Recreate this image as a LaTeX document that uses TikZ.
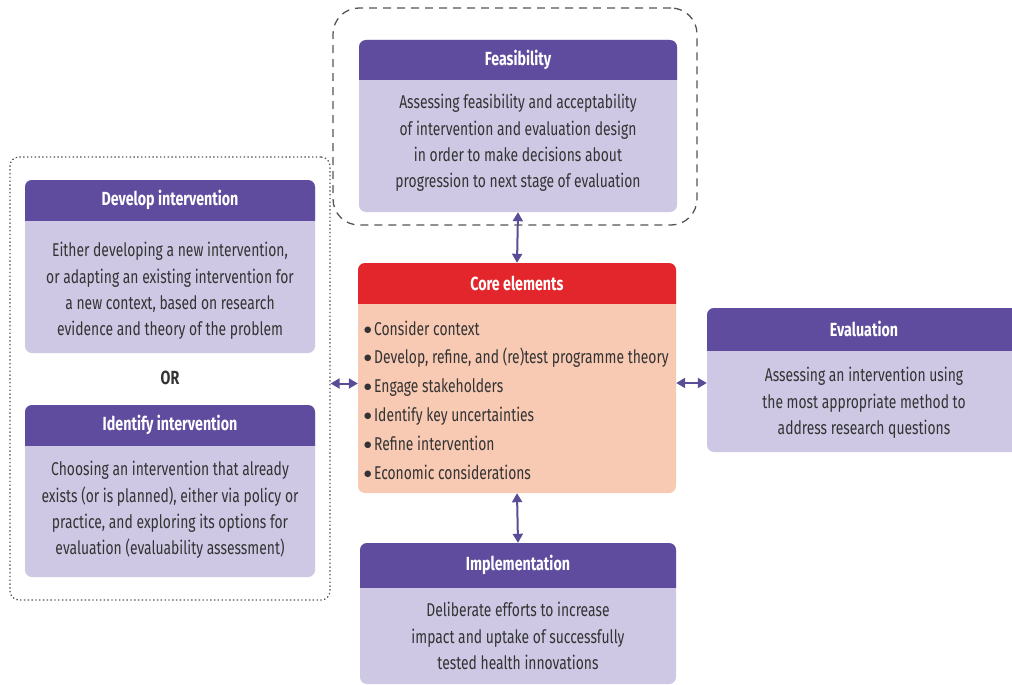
\documentclass[tikz,border=0pt]{standalone}
\usepackage{fontspec}
\setmainfont[FakeStretch=0.75]{Fira Sans}
\newfontfamily\dejavu{DejaVu Sans}
\usetikzlibrary{arrows.meta,fit}
\definecolor{hdrc}{HTML}{5F4C9E}
\definecolor{bodyc}{HTML}{CEC8E5}
\definecolor{redc}{HTML}{E2262B}
\definecolor{peachc}{HTML}{F8C9B3}
\definecolor{arrc}{HTML}{5A4D98}
\definecolor{txtc}{HTML}{333333}
\definecolor{grpc}{HTML}{555555}
\newcommand\bul{\raisebox{3pt}{\dejavu\fontsize{8.5}{0}\selectfont ●}\hspace{2.5pt}}
\tikzset{
  boxshape/.style={inner sep=0pt, rounded corners=7pt, draw=none},
  ttl/.style={text=white, font=\bfseries\fontsize{19}{22}\selectfont, inner sep=0pt},
  txt/.style={text=txtc, font=\fontsize{18.5}{26.3}\selectfont, align=center, inner sep=0pt},
  lst/.style={text=txtc, font=\fontsize{18.5}{28.8}\selectfont, align=left, inner sep=0pt},
  arr/.style={{Triangle[width=10pt,length=9pt]}-{Triangle[width=10pt,length=9pt]}, line width=2pt, draw=arrc},
}
% #1 name, #2 x1, #3 y1, #4 x2, #5 y2, #6 header bottom, #7 header colour, #8 body colour
\newcommand\mkpanel[8]{%
  \node[boxshape, fill=#8, fit={(#2,#3) (#4,#5)}] (#1) {};
  \begin{scope}
    \clip (#2,#3) rectangle (#4,#6);
    \fill[#7, rounded corners=7pt] (#2,#3) rectangle (#4,#5);
  \end{scope}
}
\begin{document}
\begin{tikzpicture}[x=1pt,y=-1pt]
\useasboundingbox (0,0) rectangle (1012,685);
\fill[white] (0,0) rectangle (1012,685);

% group outlines
\node[fit={(333,8) (697,225)}, inner sep=0pt, draw=grpc, line width=1.3pt, dash pattern=on 8pt off 6pt, rounded corners=26pt] (feasgrp) {};
\node[fit={(10,157) (330,600)}, inner sep=0pt, draw=grpc, line width=1.2pt, dash pattern=on 1.4pt off 2.4pt, rounded corners=9pt] (leftgrp) {};

% Feasibility
\mkpanel{feas}{359}{40}{677}{212}{80}{hdrc}{bodyc}
\node[ttl] (feas-t) at (518,60) {Feasibility};
\node[txt] (feas-b) at (518,143) {Assessing feasibility and acceptability\\of intervention and evaluation design\\in order to make decisions about\\progression to next stage of evaluation};

% Develop
\mkpanel{dev}{25}{180}{315}{353}{220}{hdrc}{bodyc}
\node[ttl] (dev-t) at (170,200) {Develop intervention};
\node[txt] (dev-b) at (170,291) {Either developing a new intervention,\\or adapting an existing intervention for\\a new context, based on research\\evidence and theory of the problem};

\node[text=txtc, font=\bfseries\fontsize{19}{22}\selectfont, inner sep=0pt] (or) at (170,378) {OR};

% Identify
\mkpanel{ident}{25}{405}{315}{577}{445}{hdrc}{bodyc}
\node[ttl] (ident-t) at (170,425) {Identify intervention};
\node[txt] (ident-b) at (170,510) {Choosing an intervention that already\\exists (or is planned), either via policy or\\practice, and exploring its options for\\evaluation (evaluability assessment)};

% Core
\mkpanel{core}{358}{263}{676}{493}{303}{redc}{peachc}
\node[ttl] (core-t) at (517,283) {Core elements};
\node[lst, anchor=west] (core-b) at (364,400) {\bul Consider context\\\bul Develop, refine, and (re)test programme theory\\\bul Engage stakeholders\\\bul Identify key uncertainties\\\bul Refine intervention\\\bul Economic considerations};

% Evaluation
\mkpanel{eval}{707}{308}{1020}{452}{350}{hdrc}{bodyc}
\node[ttl] (eval-t) at (864,329) {Evaluation};
\node[txt] (eval-b) at (864,403) {Assessing an intervention using\\the most appropriate method to\\address research questions};

% Implementation
\mkpanel{impl}{360}{543}{676}{684}{587}{hdrc}{bodyc}
\node[ttl] (impl-t) at (518,565) {Implementation};
\node[txt] (impl-b) at (518,636) {Deliberate efforts to increase\\impact and uptake of successfully\\tested health innovations};

% connectors
\draw[arr] (feas.south) -- (core.north);
\draw[arr] (core.south) -- (impl.north);
\draw[arr] ([yshift=-5pt]leftgrp.east) -- ([yshift=-5pt]leftgrp.east -| core.west);
\draw[arr] ([yshift=-5pt]core.east) -- ([yshift=-5pt]core.east -| eval.west);
\end{tikzpicture}
\end{document}
